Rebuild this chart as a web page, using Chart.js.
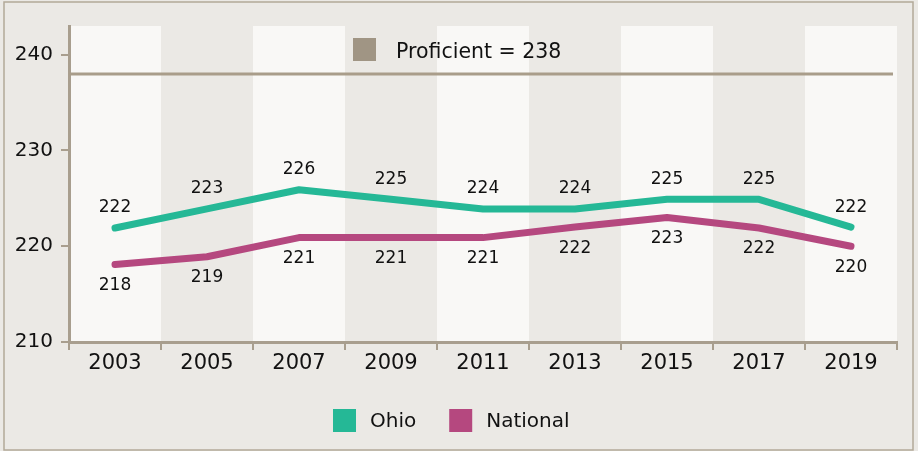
<!DOCTYPE html>
<html>
<head>
<meta charset="utf-8">
<script src="https://cdn.jsdelivr.net/npm/chart.js@4.4.0/dist/chart.umd.min.js"></script>
<style>
  html, body { margin: 0; padding: 0; background: #ebe9e5; }
  #wrap { width: 918px; height: 451px; }
</style>
</head>
<body>
<div id="wrap"><canvas id="scoreChart" width="918" height="451"></canvas></div>
<script>
  const years = ['2003', '2005', '2007', '2009', '2011', '2013', '2015', '2017', '2019'];
  const ohioScores = [221.9, 223.9, 225.9, 224.9, 223.9, 223.9, 224.9, 224.9, 222];
  const ohioLabels = ['222', '223', '226', '225', '224', '224', '225', '225', '222'];
  const nationalScores = [218.1, 218.9, 220.9, 220.9, 220.9, 222, 223, 221.9, 220];
  const nationalLabels = ['218', '219', '221', '221', '221', '222', '223', '222', '220'];
  const proficientScore = 238;
  const proficientText = 'Proficient = 238';
  const yTicks = [210, 220, 230, 240];

  const axisColor = '#a89e8e';
  const font = "'DejaVu Sans', sans-serif";

  // fond a bandes alternees + cadre exterieur
  const bandsPlugin = {
    id: 'bands',
    beforeDraw(chart) {
      const { ctx, chartArea: a, scales: { x } } = chart;
      ctx.save();
      ctx.fillStyle = '#ebe9e5';
      ctx.fillRect(0, 0, chart.width, chart.height);
      ctx.strokeStyle = '#b3a998';
      ctx.lineWidth = 1.5;
      ctx.strokeRect(4, 2, 909, 448);
      const w = (a.right - a.left) / years.length;
      ctx.fillStyle = '#f9f8f6';
      years.forEach((y, i) => {
        if (i % 2 === 0) {
          const cx = x.getPixelForValue(i);
          ctx.fillRect(cx - w / 2, a.top, w, a.bottom - a.top);
        }
      });
      ctx.restore();
    },
    beforeDatasetsDraw(chart) {
      // ligne "Proficient"
      const { ctx, chartArea: a, scales: { y } } = chart;
      const py = y.getPixelForValue(proficientScore);
      ctx.save();
      ctx.strokeStyle = '#a99d8a';
      ctx.lineWidth = 3;
      ctx.beginPath();
      ctx.moveTo(a.left, py);
      ctx.lineTo(a.right - 4, py);
      ctx.stroke();
      ctx.restore();
    }
  };

  // etiquettes de valeurs + legendes
  const labelsPlugin = {
    id: 'valueLabels',
    afterDatasetsDraw(chart) {
      const { ctx } = chart;
      ctx.save();
      ctx.font = '17px ' + font;
      ctx.fillStyle = '#111';
      ctx.textAlign = 'center';
      ctx.textBaseline = 'middle';
      chart.data.datasets.forEach((ds, di) => {
        const meta = chart.getDatasetMeta(di);
        meta.data.forEach((pt, i) => {
          const dy = ds.labelSide === 'above' ? -20 : 21;
          ctx.fillText(ds.valueLabels[i], pt.x, pt.y + dy);
        });
      });

      ctx.textAlign = 'left';
      // legende du haut
      ctx.font = '20.5px ' + font;
      ctx.fillStyle = '#a09584';
      ctx.fillRect(353, 38, 23, 23);
      ctx.fillStyle = '#111';
      ctx.fillText(proficientText, 396, 53);
      // legende du bas
      ctx.font = '20px ' + font;
      let lx = 333;
      chart.data.datasets.forEach(ds => {
        ctx.fillStyle = ds.borderColor;
        ctx.fillRect(lx, 409, 23, 23);
        ctx.fillStyle = '#111';
        ctx.fillText(ds.label, lx + 37, 422);
        lx += 37 + ctx.measureText(ds.label).width + 33;
      });
      ctx.restore();
    }
  };

  const ctx = document.getElementById('scoreChart').getContext('2d');
  const scoreChart = new Chart(ctx, {
    type: 'line',
    data: {
      labels: years,
      datasets: [{
        label: 'Ohio',
        data: ohioScores,
        valueLabels: ohioLabels,
        labelSide: 'above',
        borderColor: '#25b896',
        borderWidth: 7,
        borderCapStyle: 'round',
        borderJoinStyle: 'round',
        pointRadius: 0,
        tension: 0
      }, {
        label: 'National',
        data: nationalScores,
        valueLabels: nationalLabels,
        labelSide: 'below',
        borderColor: '#b5487f',
        borderWidth: 7,
        borderCapStyle: 'round',
        borderJoinStyle: 'round',
        pointRadius: 0,
        tension: 0
      }]
    },
    options: {
      responsive: false,
      animation: false,
      devicePixelRatio: 1,
      layout: { padding: { top: 26, right: 21, left: 0, bottom: 0 } },
      plugins: {
        legend: { display: false },
        tooltip: { enabled: false }
      },
      scales: {
        x: {
          offset: true,
          afterFit(scale) { scale.height = 109; },
          border: { color: axisColor, width: 3 },
          grid: {
            offset: true,
            drawOnChartArea: false,
            drawTicks: true,
            tickLength: 8,
            color: axisColor,
            lineWidth: 2
          },
          ticks: {
            color: '#111',
            font: { family: font, size: 21 },
            padding: 1
          }
        },
        y: {
          min: 210,
          max: 243,
          afterFit(scale) { scale.width = 69; },
          afterBuildTicks(scale) { scale.ticks = yTicks.map(v => ({ value: v })); },
          border: { color: axisColor, width: 3 },
          grid: {
            drawOnChartArea: false,
            drawTicks: true,
            tickLength: 8,
            color: axisColor,
            lineWidth: 2
          },
          ticks: {
            color: '#111',
            font: { family: font, size: 20 },
            padding: 8
          }
        }
      }
    },
    plugins: [bandsPlugin, labelsPlugin]
  });
</script>
</body>
</html>
